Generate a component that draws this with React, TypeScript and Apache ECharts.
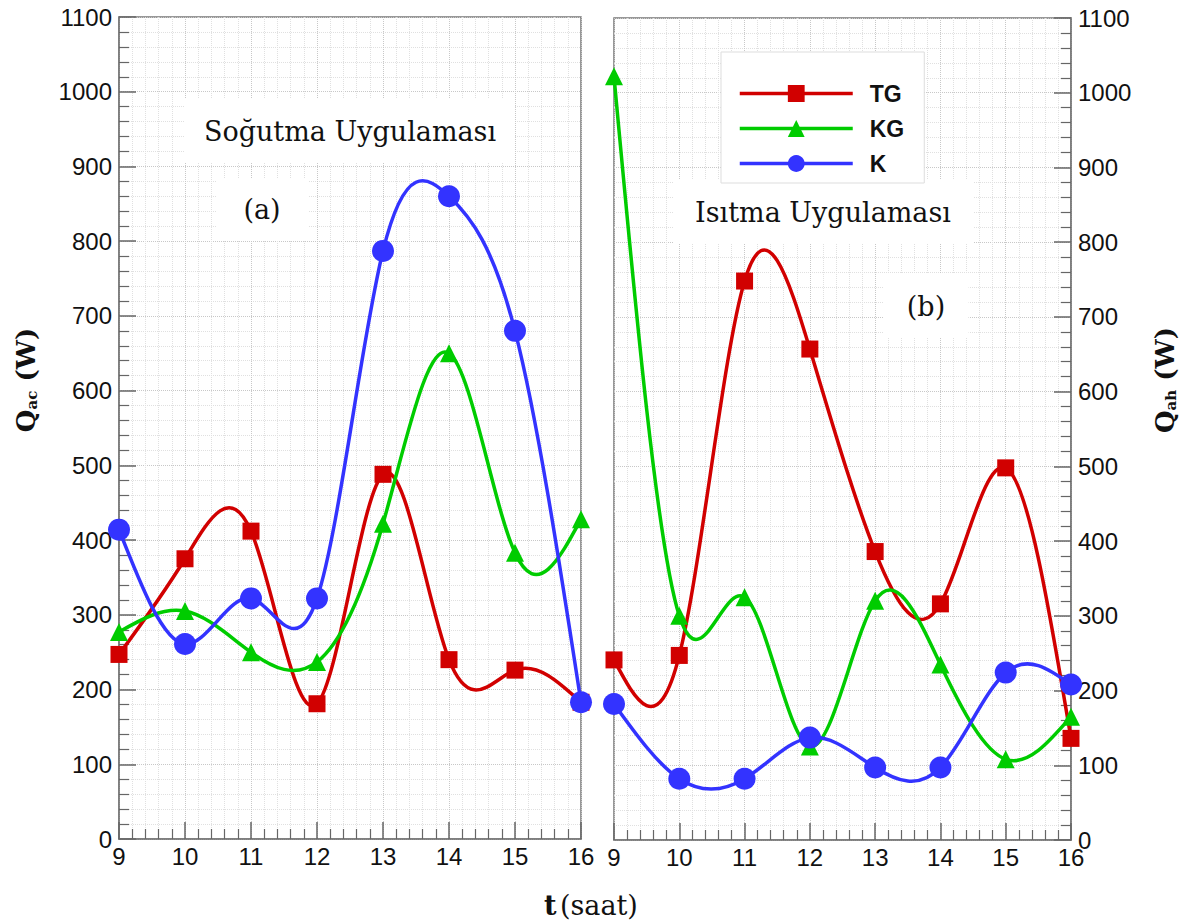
import React, { useEffect, useRef } from "react";
import * as echarts from "echarts";

const hours = [9, 10, 11, 12, 13, 14, 15, 16];
const seriesNames = ["TG", "KG", "K"];
// (a) Soğutma Uygulaması
const coolTG = [247, 375, 412, 181, 488, 240, 226, 183];
const coolKG = [277, 305, 250, 237, 422, 650, 383, 428];
const coolK = [414, 261, 322, 322, 787, 860, 680, 183];
// (b) Isıtma Uygulaması
const heatTG = [241, 247, 748, 657, 386, 316, 498, 136];
const heatKG = [1022, 300, 325, 125, 320, 235, 108, 165];
const heatK = [182, 82, 82, 137, 97, 97, 224, 208];

const colors = ["#d10000", "#00cc00", "#3333ff"];
const symbols = ["rect", "triangle", "circle"];
const symbolSizes = [17, 18, 22];

const SANS = "'Liberation Sans', Arial, sans-serif";
const SERIF = "'DejaVu Serif', serif";

function pairs(vals: number[]) {
  return hours.map((h, i) => [h, vals[i]]);
}

// Natural cubic spline slopes at each knot (used only to draw the curve through the data points)
function splineSlopes(xs: number[], ys: number[]) {
  const n = xs.length;
  const h: number[] = [];
  for (let i = 0; i < n - 1; i++) h.push(xs[i + 1] - xs[i]);
  const M = new Array(n).fill(0);
  if (n > 2) {
    const a: number[] = [], b: number[] = [], c: number[] = [], d: number[] = [];
    for (let i = 1; i < n - 1; i++) {
      a.push(h[i - 1]);
      b.push(2 * (h[i - 1] + h[i]));
      c.push(h[i]);
      d.push(6 * ((ys[i + 1] - ys[i]) / h[i] - (ys[i] - ys[i - 1]) / h[i - 1]));
    }
    const m = b.length;
    for (let i = 1; i < m; i++) {
      const w = a[i] / b[i - 1];
      b[i] -= w * c[i - 1];
      d[i] -= w * d[i - 1];
    }
    const sol = new Array(m).fill(0);
    sol[m - 1] = d[m - 1] / b[m - 1];
    for (let i = m - 2; i >= 0; i--) sol[i] = (d[i] - c[i] * sol[i + 1]) / b[i];
    for (let i = 0; i < m; i++) M[i + 1] = sol[i];
  }
  const segs: { d0: number; d1: number }[] = [];
  for (let i = 0; i < n - 1; i++) {
    const s = (ys[i + 1] - ys[i]) / h[i];
    segs.push({
      d0: s - (h[i] * (2 * M[i] + M[i + 1])) / 6,
      d1: s + (h[i] * (M[i] + 2 * M[i + 1])) / 6,
    });
  }
  return segs;
}

function labelFmt(v: number) {
  return String(v);
}

function makeX(gridIndex: number) {
  return {
    gridIndex,
    type: "value",
    min: 9,
    max: 16,
    interval: 1,
    axisLine: { show: true, onZero: false, lineStyle: { color: "#777", width: 1.5 } },
    axisTick: { show: true, inside: true, length: 17, lineStyle: { color: "#666", width: 1.5 } },
    minorTick: { show: true, splitNumber: 5, length: 10, lineStyle: { color: "#666", width: 1.2 } },
    axisLabel: { fontSize: 24, color: "#111", fontFamily: SANS, margin: 5, formatter: labelFmt },
    splitLine: { show: true, lineStyle: { type: "dotted", color: "#c8c8c8", width: 1 } },
    minorSplitLine: { show: true, lineStyle: { type: "dotted", color: "#e0e0e0", width: 1 } },
  };
}

function makeY(gridIndex: number, position: string) {
  return {
    gridIndex,
    type: "value",
    position,
    min: 0,
    max: 1100,
    interval: 100,
    axisLine: { show: true, lineStyle: { color: "#777", width: 1.5 } },
    axisTick: { show: true, inside: true, length: 17, lineStyle: { color: "#666", width: 1.5 } },
    minorTick: { show: true, splitNumber: 5, length: 10, lineStyle: { color: "#666", width: 1.2 } },
    axisLabel: { fontSize: 24, color: "#111", fontFamily: SANS, margin: 7, formatter: labelFmt },
    splitLine: { show: true, lineStyle: { type: "dotted", color: "#c8c8c8", width: 1 } },
    minorSplitLine: { show: true, lineStyle: { type: "dotted", color: "#e0e0e0", width: 1 } },
  };
}

function makeMarkers(vals: number[][], gridIndex: number) {
  return vals.map((v, i) => ({
    name: seriesNames[i],
    type: "line",
    xAxisIndex: gridIndex,
    yAxisIndex: gridIndex,
    symbol: symbols[i],
    symbolSize: symbolSizes[i],
    showAllSymbol: true,
    lineStyle: { color: colors[i], width: 3.5, opacity: 0 },
    itemStyle: { color: colors[i] },
    z: 5 + i,
    data: pairs(v),
  }));
}

function makeCurves(vals: number[][], gridIndex: number) {
  return vals.map((v, k) => {
    const segs = splineSlopes(hours, v);
    return {
      name: seriesNames[k],
      type: "custom",
      coordinateSystem: "cartesian2d",
      xAxisIndex: gridIndex,
      yAxisIndex: gridIndex,
      silent: true,
      z: 3 + k,
      encode: { x: 0, y: 1 },
      data: pairs(v),
      renderItem: (params: any, api: any) => {
        const i = params.dataIndex;
        if (i >= hours.length - 1) return { type: "group", children: [] };
        const x0 = hours[i], x1 = hours[i + 1];
        const hh = x1 - x0;
        const p0 = api.coord([x0, v[i]]);
        const p1 = api.coord([x1, v[i + 1]]);
        const c0 = api.coord([x0 + hh / 3, v[i] + (hh / 3) * segs[i].d0]);
        const c1 = api.coord([x1 - hh / 3, v[i + 1] - (hh / 3) * segs[i].d1]);
        return {
          type: "bezierCurve",
          shape: { x1: p0[0], y1: p0[1], x2: p1[0], y2: p1[1], cpx1: c0[0], cpy1: c0[1], cpx2: c1[0], cpy2: c1[1] },
          style: { stroke: colors[k], lineWidth: 3.5, fill: "none", lineCap: "round" },
        };
      },
    };
  });
}

function labelBox(cx: number, cy: number, w: number, h: number, text: string, size: number) {
  return [
    { type: "rect", z: 1, shape: { x: cx - w / 2, y: cy - h / 2, width: w, height: h }, style: { fill: "#ffffff" } },
    {
      type: "text",
      z: 2,
      x: cx,
      y: cy,
      style: { text, fill: "#111", font: `${size}px ${SERIF}`, align: "center", verticalAlign: "middle" },
    },
  ];
}

function axisTitle(x: number, y: number, sub: string) {
  return {
    type: "text",
    z: 2,
    x,
    y,
    rotation: Math.PI / 2,
    style: {
      text: `{q|Q}{s|${sub}}{w| (W)}`,
      align: "center",
      verticalAlign: "middle",
      fill: "#111",
      rich: {
        q: { fontSize: 26, fontWeight: "bold", fontFamily: SERIF, fill: "#111" },
        s: { fontSize: 15, fontWeight: "bold", fontFamily: SERIF, fill: "#111", verticalAlign: "bottom", padding: [10, 0, 0, 0] },
        w: { fontSize: 26, fontWeight: "bold", fontFamily: SERIF, fill: "#111" },
      },
    },
  };
}

export default function App() {
  const ref = useRef<HTMLDivElement>(null);
  useEffect(() => {
    if (!ref.current) return;
    const chart = echarts.init(ref.current, undefined, { renderer: "svg" });
    const option: any = {
      animation: false,
      backgroundColor: "#ffffff",
      grid: [
        { left: 119, top: 17, width: 462, height: 822, show: true, borderColor: "#777", borderWidth: 1.5 },
        { left: 614, top: 18, width: 457, height: 822, show: true, borderColor: "#777", borderWidth: 1.5 },
      ],
      xAxis: [makeX(0), makeX(1)],
      yAxis: [makeY(0, "left"), makeY(1, "right")],
      legend: {
        show: true,
        data: seriesNames.map((n, i) => ({
          name: n,
          lineStyle: { color: colors[i], width: 3.5, opacity: 1, type: "solid" },
          itemStyle: { color: colors[i], opacity: 1 },
        })),
        orient: "vertical",
        left: 721,
        top: 52,
        itemWidth: 113,
        itemHeight: 21,
        itemGap: 12,
        backgroundColor: "#ffffff",
        borderColor: "#dddddd",
        borderWidth: 1,
        padding: [30, 20, 8, 17],
        textStyle: { fontSize: 23, fontWeight: "bold", color: "#111", fontFamily: SANS, padding: [0, 0, 0, 12] },
        z: 10,
      },
      series: [
        ...makeMarkers([coolTG, coolKG, coolK], 0),
        ...makeMarkers([heatTG, heatKG, heatK], 1),
        ...makeCurves([coolTG, coolKG, coolK], 0),
        ...makeCurves([heatTG, heatKG, heatK], 1),
      ],
      graphic: [
        ...labelBox(350, 131, 330, 64, "Soğutma Uygulaması", 27),
        ...labelBox(262, 209, 92, 62, "(a)", 27),
        ...labelBox(823, 212, 300, 64, "Isıtma Uygulaması", 27),
        ...labelBox(926, 306, 85, 64, "(b)", 27),
        axisTitle(26, 380, "ac"),
        axisTitle(1165, 380, "ah"),
        {
          type: "text",
          z: 2,
          x: 591,
          y: 905,
          style: {
            text: "{t|t} {u|(saat)}",
            align: "center",
            verticalAlign: "middle",
            fill: "#111",
            rich: {
              t: { fontSize: 27, fontWeight: "bold", fontFamily: SERIF, fill: "#111" },
              u: { fontSize: 27, fontFamily: SERIF, fill: "#111" },
            },
          },
        },
      ],
    };
    chart.setOption(option);
    return () => chart.dispose();
  }, []);
  return (
    <div
      ref={ref}
      style={{ position: "absolute", left: 0, top: 0, width: 1193, height: 923, background: "#fff" }}
    />
  );
}
